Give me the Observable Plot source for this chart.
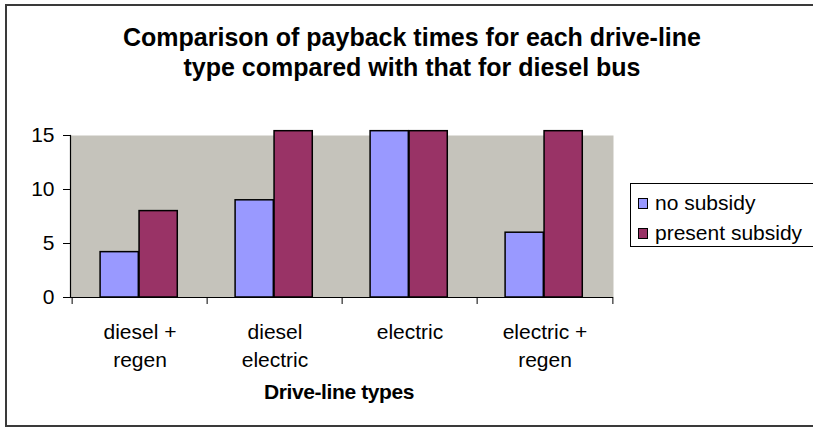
<!DOCTYPE html>
<html><head><meta charset="utf-8">
<script src="https://cdn.jsdelivr.net/npm/d3@7"></script>
<script src="https://cdn.jsdelivr.net/npm/@observablehq/plot@0.6"></script>
<style>
body{margin:0;background:#fff;font-family:"Liberation Sans",Arial,sans-serif;}
#wrap{position:relative;width:813px;height:428px;overflow:hidden;}
#wrap svg{position:absolute;left:0;top:0;}
#border{position:absolute;left:5px;top:4px;width:830px;height:423px;border:2px solid #3a3a3a;box-sizing:border-box;}
#title{position:absolute;left:0;width:824px;top:22px;text-align:center;font-weight:bold;font-size:25px;line-height:30px;color:#000;}
#xlabel{position:absolute;left:189px;width:300px;top:380px;text-align:center;font-weight:bold;font-size:21px;line-height:24px;color:#000;letter-spacing:-0.4px;}
#legend{position:absolute;left:630px;top:183px;width:184px;height:64px;border:1px solid #000;box-sizing:border-box;background:#fff;padding:4px 0 0 7px;}
.item{font-size:21px;line-height:24px;color:#000;display:flex;align-items:center;height:30px;white-space:nowrap;}
.sw{width:8px;height:9px;border:1px solid #000;margin-right:7px;display:inline-block;flex:none;}
</style></head>
<body>
<div id="wrap">
  <div id="border"></div>
  <div id="title"></div>
  <div id="xlabel"></div>
  <div id="legend"></div>
</div>
<script>
const titleLines = ["Comparison of payback times for each drive-line", "type compared with that for diesel bus"];
const xTitle = "Drive-line types";
const categories = ["diesel + regen", "diesel electric", "electric", "electric + regen"];
const tickLabels = ["diesel +\nregen", "diesel\nelectric", "electric", "electric +\nregen"];
const series = ["no subsidy", "present subsidy"];
const noSubsidy = [4.2, 9.0, 15.4, 6.0];
const presentSubsidy = [8.0, 15.4, 15.4, 15.4];
const seriesColors = ["#9999ff", "#993366"];
const yTicks = [0, 5, 10, 15];

const W = 813, H = 428, mL = 70, mR = 200, mT = 135, mB = 131;
const bw = (W - mL - mR) / categories.length;
const off = 0.207, barFrac = 0.287;

const rows = categories.map((c, i) => ({cat: c, a: noSubsidy[i], b: presentSubsidy[i]}));

const chart = Plot.plot({
  width: W, height: H,
  marginLeft: mL, marginRight: mR, marginTop: mT, marginBottom: mB,
  style: {fontFamily: '"Liberation Sans", Arial, sans-serif', background: "transparent", color: "#000"},
  x: {type: "band", domain: categories, padding: 0, axis: null},
  y: {domain: [0, 15], axis: null},
  marks: [
    Plot.frame({fill: "#c5c3bb", stroke: "none"}),
    Plot.barY(rows, {x: "cat", y: "a", fill: seriesColors[0], stroke: "#000", strokeWidth: 1.5,
      insetLeft: off * bw, insetRight: bw * (1 - off - barFrac)}),
    Plot.barY(rows, {x: "cat", y: "b", fill: seriesColors[1], stroke: "#000", strokeWidth: 1.5,
      insetLeft: (off + barFrac) * bw, insetRight: bw * (1 - off - 2 * barFrac)}),
    Plot.axisY({ticks: yTicks, tickSize: 7, tickPadding: 9, fontSize: 21, tickFormat: d => d, stroke: "#000", label: null}),
    Plot.frame({anchor: "left", stroke: "#000", strokeWidth: 1.2}),
    Plot.ruleY([0], {stroke: "#000", strokeWidth: 1.2}),
    Plot.axisX({ticks: categories, tickSize: 7, tickFormat: () => "", dx: -bw / 2, stroke: "#000", label: null}),
    Plot.axisX({ticks: categories.slice(-1), tickSize: 7, tickFormat: () => "", dx: bw / 2, stroke: "#000", label: null}),
    Plot.axisX({ticks: categories, tickSize: 0, tickPadding: 22, fontSize: 21, lineHeight: 1.33,
      tickFormat: d => tickLabels[categories.indexOf(d)], label: null})
  ]
});
document.getElementById("wrap").insertBefore(chart, document.getElementById("border"));

document.getElementById("title").innerHTML = titleLines.join("<br>");
document.getElementById("xlabel").textContent = xTitle;
const leg = document.getElementById("legend");
series.forEach((s, i) => {
  const it = document.createElement("div");
  it.className = "item";
  const sw = document.createElement("span");
  sw.className = "sw";
  sw.style.background = seriesColors[i];
  it.appendChild(sw);
  it.appendChild(document.createTextNode(s));
  leg.appendChild(it);
});
</script>
</body></html>
